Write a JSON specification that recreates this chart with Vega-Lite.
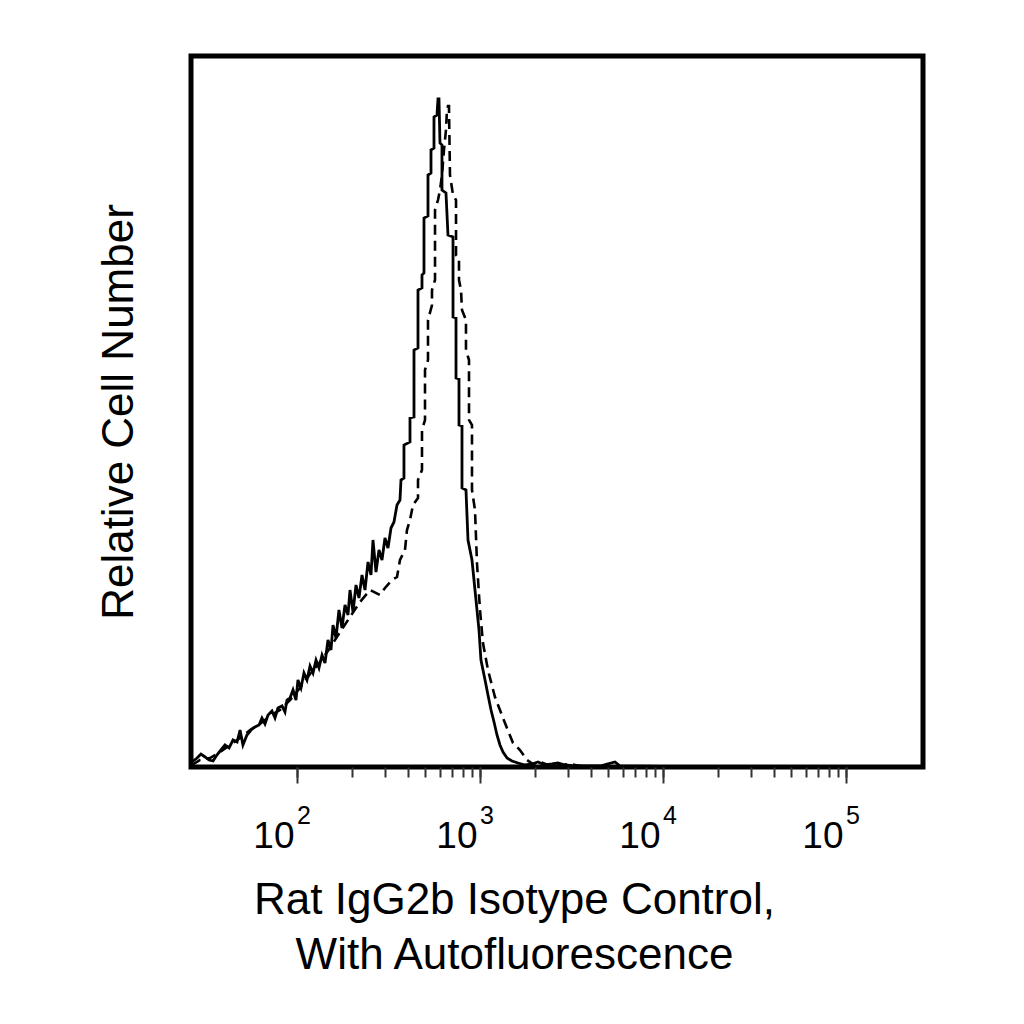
{
  "$schema": "https://vega.github.io/schema/vega-lite/v6.json",
  "width": 732,
  "height": 711,
  "autosize": "none",
  "padding": {"left": 191, "top": 56, "right": 101, "bottom": 257},
  "background": "white",
  "config": {
    "font": "Liberation Sans",
    "view": {"stroke": "black", "strokeWidth": 5},
    "axis": {"grid": false}
  },
  "datasets": {
    "solid": [
      {"i": 1, "x": 26.5, "y": 5}, {"i": 2, "x": 28.3, "y": 9}, {"i": 3, "x": 29.7, "y": 13},
      {"i": 4, "x": 31.3, "y": 10}, {"i": 5, "x": 32.9, "y": 7}, {"i": 6, "x": 34.6, "y": 6},
      {"i": 7, "x": 36.3, "y": 12}, {"i": 8, "x": 38.2, "y": 17}, {"i": 9, "x": 40.2, "y": 22},
      {"i": 10, "x": 42.3, "y": 19}, {"i": 11, "x": 44.5, "y": 27}, {"i": 12, "x": 46.8, "y": 25},
      {"i": 13, "x": 48.6, "y": 37}, {"i": 14, "x": 50.4, "y": 22}, {"i": 15, "x": 53.0, "y": 32},
      {"i": 16, "x": 55.8, "y": 37}, {"i": 17, "x": 58.6, "y": 40}, {"i": 18, "x": 61.7, "y": 42},
      {"i": 19, "x": 64.0, "y": 49}, {"i": 20, "x": 66.5, "y": 43}, {"i": 21, "x": 69.1, "y": 52},
      {"i": 22, "x": 72.6, "y": 56}, {"i": 23, "x": 75.4, "y": 49}, {"i": 24, "x": 78.3, "y": 59},
      {"i": 25, "x": 82.4, "y": 61}, {"i": 26, "x": 85.5, "y": 55}, {"i": 27, "x": 87.7, "y": 67},
      {"i": 28, "x": 91.1, "y": 69}, {"i": 29, "x": 94.6, "y": 77}, {"i": 30, "x": 98.2, "y": 67},
      {"i": 31, "x": 100.7, "y": 87}, {"i": 32, "x": 104.6, "y": 79}, {"i": 33, "x": 108.6, "y": 94},
      {"i": 34, "x": 112.8, "y": 87}, {"i": 35, "x": 117.2, "y": 101}, {"i": 36, "x": 121.7, "y": 94},
      {"i": 37, "x": 126.4, "y": 107}, {"i": 38, "x": 131.2, "y": 99}, {"i": 39, "x": 136.3, "y": 112},
      {"i": 40, "x": 141.5, "y": 104}, {"i": 41, "x": 146.9, "y": 127}, {"i": 42, "x": 152.6, "y": 117},
      {"i": 43, "x": 156.5, "y": 142}, {"i": 44, "x": 162.5, "y": 129}, {"i": 45, "x": 168.7, "y": 157},
      {"i": 46, "x": 175.2, "y": 139}, {"i": 47, "x": 182.0, "y": 162}, {"i": 48, "x": 189.0, "y": 152},
      {"i": 49, "x": 193.8, "y": 177}, {"i": 50, "x": 201.3, "y": 155}, {"i": 51, "x": 209.0, "y": 182},
      {"i": 52, "x": 217.0, "y": 169}, {"i": 53, "x": 225.4, "y": 192}, {"i": 54, "x": 234.1, "y": 177},
      {"i": 55, "x": 243.1, "y": 205}, {"i": 56, "x": 252.4, "y": 192}, {"i": 57, "x": 258.8, "y": 227},
      {"i": 58, "x": 268.8, "y": 195}, {"i": 59, "x": 279.1, "y": 217}, {"i": 60, "x": 289.9, "y": 207},
      {"i": 61, "x": 301.0, "y": 229}, {"i": 62, "x": 312.6, "y": 219}, {"i": 63, "x": 324.6, "y": 239},
      {"i": 64, "x": 337.1, "y": 245}, {"i": 65, "x": 350.1, "y": 262}, {"i": 66, "x": 363.5, "y": 267},
      {"i": 67, "x": 368.1, "y": 287}, {"i": 68, "x": 382.2, "y": 289}, {"i": 69, "x": 382.2, "y": 322},
      {"i": 70, "x": 412.3, "y": 325}, {"i": 71, "x": 412.3, "y": 349}, {"i": 72, "x": 433.6, "y": 350},
      {"i": 73, "x": 433.6, "y": 417}, {"i": 74, "x": 456.0, "y": 419}, {"i": 75, "x": 456.0, "y": 477},
      {"i": 76, "x": 479.5, "y": 479}, {"i": 77, "x": 479.5, "y": 492}, {"i": 78, "x": 491.7, "y": 494},
      {"i": 79, "x": 491.7, "y": 549}, {"i": 80, "x": 517.1, "y": 551}, {"i": 81, "x": 517.1, "y": 592},
      {"i": 82, "x": 537.0, "y": 594}, {"i": 83, "x": 537.0, "y": 617}, {"i": 84, "x": 557.6, "y": 619},
      {"i": 85, "x": 557.6, "y": 650}, {"i": 86, "x": 579.1, "y": 652}, {"i": 87, "x": 586.4, "y": 668},
      {"i": 88, "x": 593.8, "y": 668}, {"i": 89, "x": 601.3, "y": 624}, {"i": 90, "x": 616.6, "y": 622},
      {"i": 91, "x": 616.6, "y": 577}, {"i": 92, "x": 648.4, "y": 574}, {"i": 93, "x": 665.0, "y": 532},
      {"i": 94, "x": 708.5, "y": 530}, {"i": 95, "x": 708.5, "y": 450}, {"i": 96, "x": 735.7, "y": 449},
      {"i": 97, "x": 735.7, "y": 389}, {"i": 98, "x": 763.8, "y": 388}, {"i": 99, "x": 763.8, "y": 342},
      {"i": 100, "x": 793.2, "y": 341}, {"i": 101, "x": 793.2, "y": 279}, {"i": 102, "x": 834.0, "y": 277},
      {"i": 103, "x": 855.4, "y": 227}, {"i": 104, "x": 899.5, "y": 207}, {"i": 105, "x": 946.0, "y": 167},
      {"i": 106, "x": 982.4, "y": 137}, {"i": 107, "x": 1007, "y": 107}, {"i": 108, "x": 1060, "y": 87},
      {"i": 109, "x": 1100, "y": 72}, {"i": 110, "x": 1143, "y": 57}, {"i": 111, "x": 1187, "y": 45},
      {"i": 112, "x": 1232, "y": 32}, {"i": 113, "x": 1279, "y": 22}, {"i": 114, "x": 1329, "y": 15},
      {"i": 115, "x": 1398, "y": 9}, {"i": 116, "x": 1488, "y": 6}, {"i": 117, "x": 1605, "y": 4},
      {"i": 118, "x": 1752, "y": 2}, {"i": 119, "x": 1914, "y": 3}, {"i": 120, "x": 2064, "y": 5},
      {"i": 121, "x": 2254, "y": 2}, {"i": 122, "x": 2462, "y": 3}, {"i": 123, "x": 2655, "y": 4},
      {"i": 124, "x": 2899, "y": 2}, {"i": 125, "x": 3287, "y": 1}, {"i": 126, "x": 4503, "y": 1},
      {"i": 127, "x": 5438, "y": 5}, {"i": 128, "x": 5791, "y": 1}, {"i": 129, "x": 15845, "y": 0},
      {"i": 130, "x": 252400, "y": 0}
    ],
    "dashed": [
      {"i": 1, "x": 26.5, "y": 2}, {"i": 2, "x": 29.4, "y": 7}, {"i": 3, "x": 33.3, "y": 9},
      {"i": 4, "x": 37.8, "y": 15}, {"i": 5, "x": 42.8, "y": 22}, {"i": 6, "x": 48.6, "y": 29},
      {"i": 7, "x": 55.1, "y": 37}, {"i": 8, "x": 62.4, "y": 43}, {"i": 9, "x": 70.8, "y": 51},
      {"i": 10, "x": 80.3, "y": 57}, {"i": 11, "x": 91.1, "y": 67}, {"i": 12, "x": 103.3, "y": 79},
      {"i": 13, "x": 117.2, "y": 93}, {"i": 14, "x": 132.9, "y": 105}, {"i": 15, "x": 150.7, "y": 119},
      {"i": 16, "x": 170.9, "y": 135}, {"i": 17, "x": 193.8, "y": 150}, {"i": 18, "x": 219.8, "y": 165},
      {"i": 19, "x": 249.2, "y": 177}, {"i": 20, "x": 282.7, "y": 172}, {"i": 21, "x": 301.0, "y": 179},
      {"i": 22, "x": 328.7, "y": 187}, {"i": 23, "x": 350.1, "y": 190}, {"i": 24, "x": 363.5, "y": 207},
      {"i": 25, "x": 387.1, "y": 217}, {"i": 26, "x": 396.9, "y": 237}, {"i": 27, "x": 412.3, "y": 247},
      {"i": 28, "x": 428.2, "y": 262}, {"i": 29, "x": 456.0, "y": 269}, {"i": 30, "x": 456.0, "y": 287},
      {"i": 31, "x": 479.5, "y": 297}, {"i": 32, "x": 479.5, "y": 337}, {"i": 33, "x": 498.0, "y": 347},
      {"i": 34, "x": 498.0, "y": 397}, {"i": 35, "x": 517.1, "y": 407}, {"i": 36, "x": 517.1, "y": 447},
      {"i": 37, "x": 543.8, "y": 462}, {"i": 38, "x": 543.8, "y": 477}, {"i": 39, "x": 564.9, "y": 487},
      {"i": 40, "x": 564.9, "y": 557}, {"i": 41, "x": 586.4, "y": 567}, {"i": 42, "x": 601.3, "y": 577},
      {"i": 43, "x": 616.6, "y": 592}, {"i": 44, "x": 632.4, "y": 617}, {"i": 45, "x": 648.4, "y": 637},
      {"i": 46, "x": 656.6, "y": 657}, {"i": 47, "x": 665.0, "y": 661}, {"i": 48, "x": 673.3, "y": 661},
      {"i": 49, "x": 681.9, "y": 592}, {"i": 50, "x": 708.5, "y": 572}, {"i": 51, "x": 735.7, "y": 567},
      {"i": 52, "x": 735.7, "y": 512}, {"i": 53, "x": 763.8, "y": 509}, {"i": 54, "x": 763.8, "y": 487},
      {"i": 55, "x": 783.2, "y": 477}, {"i": 56, "x": 793.2, "y": 457}, {"i": 57, "x": 834.0, "y": 447},
      {"i": 58, "x": 834.0, "y": 417}, {"i": 59, "x": 866.3, "y": 407}, {"i": 60, "x": 866.3, "y": 347},
      {"i": 61, "x": 899.5, "y": 342}, {"i": 62, "x": 899.5, "y": 277}, {"i": 63, "x": 934.1, "y": 257},
      {"i": 64, "x": 957.8, "y": 204}, {"i": 65, "x": 994.7, "y": 157}, {"i": 66, "x": 1033, "y": 124},
      {"i": 67, "x": 1100, "y": 97}, {"i": 68, "x": 1201, "y": 70}, {"i": 69, "x": 1362, "y": 44},
      {"i": 70, "x": 1507, "y": 24}, {"i": 71, "x": 1645, "y": 17}, {"i": 72, "x": 1797, "y": 7},
      {"i": 73, "x": 1939, "y": 3}, {"i": 74, "x": 2117, "y": 5}, {"i": 75, "x": 2341, "y": 2},
      {"i": 76, "x": 2557, "y": 3}, {"i": 77, "x": 2791, "y": 2}, {"i": 78, "x": 3086, "y": 3},
      {"i": 79, "x": 3501, "y": 1}, {"i": 80, "x": 5791, "y": 0}, {"i": 81, "x": 252400, "y": 0}
    ]
  },
  "resolve": {"axis": {"x": "independent"}},
  "layer": [
    {
      "data": {"name": "dashed"},
      "mark": {"type": "line", "color": "black", "strokeWidth": 2.6, "strokeDash": [10, 6], "clip": true},
      "encoding": {
        "x": {
          "field": "x", "type": "quantitative",
          "scale": {"type": "log", "domain": [26.2144, 262144], "nice": false},
          "axis": {
            "orient": "bottom", "title": null, "domain": false,
            "values": [100, 200, 300, 400, 500, 600, 700, 800, 900, 1000, 2000, 3000, 4000, 5000, 6000, 7000, 8000, 9000, 10000, 20000, 30000, 40000, 50000, 60000, 70000, 80000, 90000, 100000],
            "labelExpr": "datum.value == 100 ? '2' : datum.value == 1000 ? '3' : datum.value == 10000 ? '4' : datum.value == 100000 ? '5' : ''",
            "labelFontSize": 25, "labelColor": "black", "labelBaseline": "alphabetic", "labelPadding": 46,
            "labelAlign": "center", "labelOffset": 6, "labelFlush": false, "labelOverlap": false, "labelBound": false,
            "tickSize": 10, "tickWidth": 2, "tickColor": "#333333"
          }
        },
        "y": {
          "field": "y", "type": "quantitative",
          "scale": {"domain": [0, 711], "nice": false},
          "axis": {
            "title": "Relative Cell Number", "ticks": false, "labels": false, "domain": false,
            "titleFontSize": 44, "titleFontWeight": "normal", "titleColor": "black",
            "titleX": -59, "titleY": 355.5, "titleAngle": 270, "titleBaseline": "alphabetic", "titleAlign": "center"
          }
        },
        "order": {"field": "i", "type": "quantitative"}
      }
    },
    {
      "data": {"name": "solid"},
      "mark": {"type": "line", "color": "black", "strokeWidth": 2.8, "clip": true},
      "encoding": {
        "x": {
          "field": "x", "type": "quantitative",
          "scale": {"type": "log", "domain": [26.2144, 262144], "nice": false},
          "axis": {
            "orient": "bottom", "domain": false,
            "values": [100, 1000, 10000, 100000],
            "labelExpr": "'10'",
            "tickSize": 16, "tickWidth": 2, "tickColor": "#333333",
            "labelFontSize": 37, "labelColor": "black", "labelBaseline": "alphabetic", "labelPadding": 64,
            "labelAlign": "center", "labelOffset": -24, "labelFlush": false, "labelOverlap": false, "labelBound": false,
            "title": ["Rat IgG2b Isotype Control,", "With Autofluorescence"],
            "titleFontSize": 44, "titleFontWeight": "normal", "titleColor": "black",
            "titleX": 323, "titleY": 146, "titleBaseline": "alphabetic", "titleAlign": "center", "titleLineHeight": 55
          }
        },
        "y": {
          "field": "y", "type": "quantitative",
          "scale": {"domain": [0, 711], "nice": false},
          "axis": {
            "title": "Relative Cell Number", "ticks": false, "labels": false, "domain": false,
            "titleFontSize": 44, "titleFontWeight": "normal", "titleColor": "black",
            "titleX": -59, "titleY": 355.5, "titleAngle": 270, "titleBaseline": "alphabetic", "titleAlign": "center"
          }
        },
        "order": {"field": "i", "type": "quantitative"}
      }
    }
  ]
}
